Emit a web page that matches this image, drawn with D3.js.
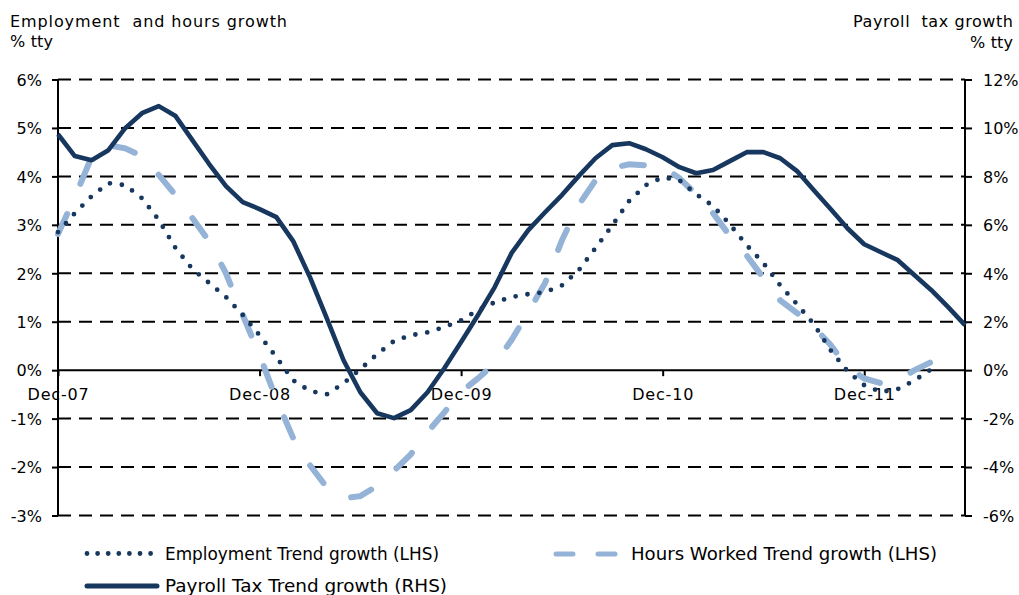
<!DOCTYPE html>
<html>
<head>
<meta charset="utf-8">
<script src="https://cdn.jsdelivr.net/npm/d3@7/dist/d3.min.js"></script>
<style>
  html, body { margin: 0; padding: 0; background: #fff; }
  svg { display: block; }
  text { font-family: "DejaVu Sans", Verdana, sans-serif; fill: #000; }
</style>
</head>
<body>
<svg id="chart" width="1019" height="595"></svg>
<script>
// Monthly observations, Dec-07 through Jun-12
const months = [
  "Dec-07","Jan-08","Feb-08","Mar-08","Apr-08","May-08","Jun-08","Jul-08","Aug-08","Sep-08","Oct-08","Nov-08",
  "Dec-08","Jan-09","Feb-09","Mar-09","Apr-09","May-09","Jun-09","Jul-09","Aug-09","Sep-09","Oct-09","Nov-09",
  "Dec-09","Jan-10","Feb-10","Mar-10","Apr-10","May-10","Jun-10","Jul-10","Aug-10","Sep-10","Oct-10","Nov-10",
  "Dec-10","Jan-11","Feb-11","Mar-11","Apr-11","May-11","Jun-11","Jul-11","Aug-11","Sep-11","Oct-11","Nov-11",
  "Dec-11","Jan-12","Feb-12","Mar-12","Apr-12","May-12","Jun-12"
];

// Employment trend growth, % tty (left axis)
const employment = [
  2.85, 3.24, 3.59, 3.86, 3.82, 3.55, 3.10, 2.52, 2.09, 1.80, 1.51, 1.14,
  0.72, 0.27, -0.21, -0.43, -0.50, -0.27, 0.02, 0.33, 0.60, 0.72, 0.78, 0.89,
  1.03, 1.24, 1.40, 1.51, 1.57, 1.61, 1.75, 2.06, 2.52, 2.99, 3.49, 3.82,
  3.98, 3.92, 3.63, 3.39, 3.01, 2.58, 2.21, 1.75, 1.36, 0.95, 0.41, -0.02,
  -0.31, -0.45, -0.39, -0.21, 0.02, null, null
];

// Hours worked trend growth, % tty (left axis)
const hours = [
  2.81, 3.57, 4.40, 4.64, 4.58, 4.42, 4.03, 3.61, 3.14, 2.66, 2.00, 1.14,
  0.31, -0.60, -1.40, -1.96, -2.42, -2.64, -2.60, -2.39, -2.08, -1.74, -1.28, -0.87,
  -0.45, -0.17, 0.14, 0.62, 1.20, 1.80, 2.68, 3.41, 3.92, 4.17, 4.25, 4.23,
  4.21, 3.96, 3.63, 3.24, 2.77, 2.37, 1.90, 1.44, 1.18, 0.89, 0.52, 0.06,
  -0.17, -0.27, -0.21, 0.00, 0.17, null, null
];

// Payroll tax trend growth, % tty (right axis)
const payroll = [
  9.74, 8.84, 8.67, 9.08, 9.99, 10.61, 10.90, 10.49, 9.50, 8.51, 7.60, 6.94,
  6.65, 6.32, 5.33, 3.84, 2.15, 0.41, -0.91, -1.78, -1.98, -1.65, -0.91, 0.08,
  1.16, 2.27, 3.43, 4.83, 5.78, 6.52, 7.23, 8.01, 8.75, 9.29, 9.37, 9.12,
  8.79, 8.38, 8.13, 8.26, 8.63, 9.00, 9.00, 8.75, 8.22, 7.43, 6.65, 5.86,
  5.20, 4.87, 4.54, 3.92, 3.30, 2.60, 1.86
];

const leftTicks = [-3, -2, -1, 0, 1, 2, 3, 4, 5, 6];
const rightTicks = [-6, -4, -2, 0, 2, 4, 6, 8, 10, 12];
const xTickLabels = ["Dec-07", "Dec-08", "Dec-09", "Dec-10", "Dec-11"];

const leftTitle = ["Employment  and hours growth", "% tty"];
const rightTitle = ["Payroll  tax growth", "% tty"];

const seriesNames = [
  "Employment Trend growth (LHS)",
  "Hours Worked Trend growth (LHS)",
  "Payroll Tax Trend growth (RHS)"
];

// ---- layout ----
const plot = { left: 58, right: 965, top: 79.5, bottom: 515.5 };
const navy = "#17375e";
const lightBlue = "#95b3d7";

const svg = d3.select("#chart");

const x = d3.scalePoint().domain(months).range([plot.left, plot.right]);
const yL = d3.scaleLinear().domain([-3, 6]).range([plot.bottom, plot.top]);
const yR = d3.scaleLinear().domain([-6, 12]).range([plot.bottom, plot.top]);

// horizontal gridlines (dashed), zero line drawn solid below
svg.append("g")
  .selectAll("line")
  .data(leftTicks.filter(d => d !== 0))
  .join("line")
  .attr("x1", plot.left).attr("x2", plot.right)
  .attr("y1", d => yL(d)).attr("y2", d => yL(d))
  .attr("stroke", "#000").attr("stroke-width", 2)
  .attr("stroke-dasharray", "13 8");

// left axis
const leftAxis = svg.append("g")
  .attr("transform", `translate(${plot.left},0)`)
  .call(d3.axisLeft(yL).tickValues(leftTicks).tickSize(6).tickPadding(10)
    .tickFormat(d => d + "%"));
leftAxis.select(".domain").attr("stroke", "#000").attr("stroke-width", 2)
  .attr("d", `M0,${plot.top}V${plot.bottom}`);
leftAxis.selectAll(".tick line").attr("stroke", "#000").attr("stroke-width", 2);
leftAxis.selectAll(".tick text").attr("font-size", 16).attr("dy", "0.36em")
  .style("font-family", "DejaVu Sans");

// right axis
const rightAxis = svg.append("g")
  .attr("transform", `translate(${plot.right},0)`)
  .call(d3.axisRight(yR).tickValues(rightTicks).tickSize(7).tickPadding(11)
    .tickFormat(d => d + "%"));
rightAxis.select(".domain").attr("stroke", "#000").attr("stroke-width", 2)
  .attr("d", `M0,${plot.top}V${plot.bottom}`);
rightAxis.selectAll(".tick line").attr("stroke", "#000").attr("stroke-width", 2);
rightAxis.selectAll(".tick text").attr("font-size", 16).attr("dy", "0.36em")
  .style("font-family", "DejaVu Sans");

// x axis along the zero line
const xAxis = svg.append("g")
  .attr("transform", `translate(0,${yL(0)})`)
  .call(d3.axisBottom(x).tickValues(xTickLabels).tickSize(6).tickPadding(12));
xAxis.select(".domain").attr("stroke", "#000").attr("stroke-width", 2)
  .attr("d", `M${plot.left},0H${plot.right}`);
xAxis.selectAll(".tick line").attr("stroke", "#000").attr("stroke-width", 2);
xAxis.selectAll(".tick text").attr("font-size", 16).attr("letter-spacing", "0.8px")
  .style("font-family", "DejaVu Sans");

// series lines
const lineL = d3.line()
  .defined(d => d.v !== null)
  .x(d => x(d.m)).y(d => yL(d.v));
const lineR = d3.line()
  .defined(d => d.v !== null)
  .x(d => x(d.m)).y(d => yR(d.v));

const asPoints = arr => arr.map((v, i) => ({ m: months[i], v }));

svg.append("path")
  .datum(asPoints(hours))
  .attr("d", lineL)
  .attr("fill", "none")
  .attr("stroke", lightBlue).attr("stroke-width", 6)
  .attr("stroke-linecap", "round")
  .attr("stroke-dasharray", "22 33");

svg.append("path")
  .datum(asPoints(employment))
  .attr("d", lineL)
  .attr("fill", "none")
  .attr("stroke", navy).attr("stroke-width", 4.8)
  .attr("stroke-linecap", "round")
  .attr("stroke-dasharray", "0 12");

svg.append("path")
  .datum(asPoints(payroll))
  .attr("d", lineR)
  .attr("fill", "none")
  .attr("stroke", navy).attr("stroke-width", 4.6)
  .attr("stroke-linejoin", "round");

// axis titles
svg.append("text").attr("x", 10).attr("y", 26.5).attr("font-size", 16)
  .attr("textLength", 277).attr("lengthAdjust", "spacing")
  .style("white-space", "pre").text(leftTitle[0]);
svg.append("text").attr("x", 10).attr("y", 46.5).attr("font-size", 16)
  .attr("textLength", 43).attr("lengthAdjust", "spacing").text(leftTitle[1]);
svg.append("text").attr("x", 1013).attr("y", 27).attr("font-size", 16)
  .attr("text-anchor", "end").style("white-space", "pre")
  .attr("textLength", 160).attr("lengthAdjust", "spacing").text(rightTitle[0]);
svg.append("text").attr("x", 1013).attr("y", 47.5).attr("font-size", 16)
  .attr("text-anchor", "end")
  .attr("textLength", 43).attr("lengthAdjust", "spacing").text(rightTitle[1]);

// legend
const legend = svg.append("g");
const legendItems = [
  { name: seriesNames[0], x1: 87, x2: 151, y: 553.5, tx: 165, ty: 560, tl: 274,
    stroke: navy, width: 4.8, dash: "0 10.6", cap: "round" },
  { name: seriesNames[1], x1: 556, x2: 616, y: 554, tx: 631, ty: 560, tl: 306,
    stroke: lightBlue, width: 5, dash: "17 25", cap: "round" },
  { name: seriesNames[2], x1: 87, x2: 157, y: 586, tx: 165, ty: 592, tl: 282,
    stroke: navy, width: 5, dash: null, cap: "round" }
];
legendItems.forEach(it => {
  legend.append("line")
    .attr("x1", it.x1).attr("x2", it.x2).attr("y1", it.y).attr("y2", it.y)
    .attr("stroke", it.stroke).attr("stroke-width", it.width)
    .attr("stroke-linecap", it.cap)
    .attr("stroke-dasharray", it.dash);
  legend.append("text")
    .attr("x", it.tx).attr("y", it.ty).attr("font-size", 17)
    .attr("textLength", it.tl).attr("lengthAdjust", "spacingAndGlyphs")
    .text(it.name);
});
</script>
</body>
</html>
